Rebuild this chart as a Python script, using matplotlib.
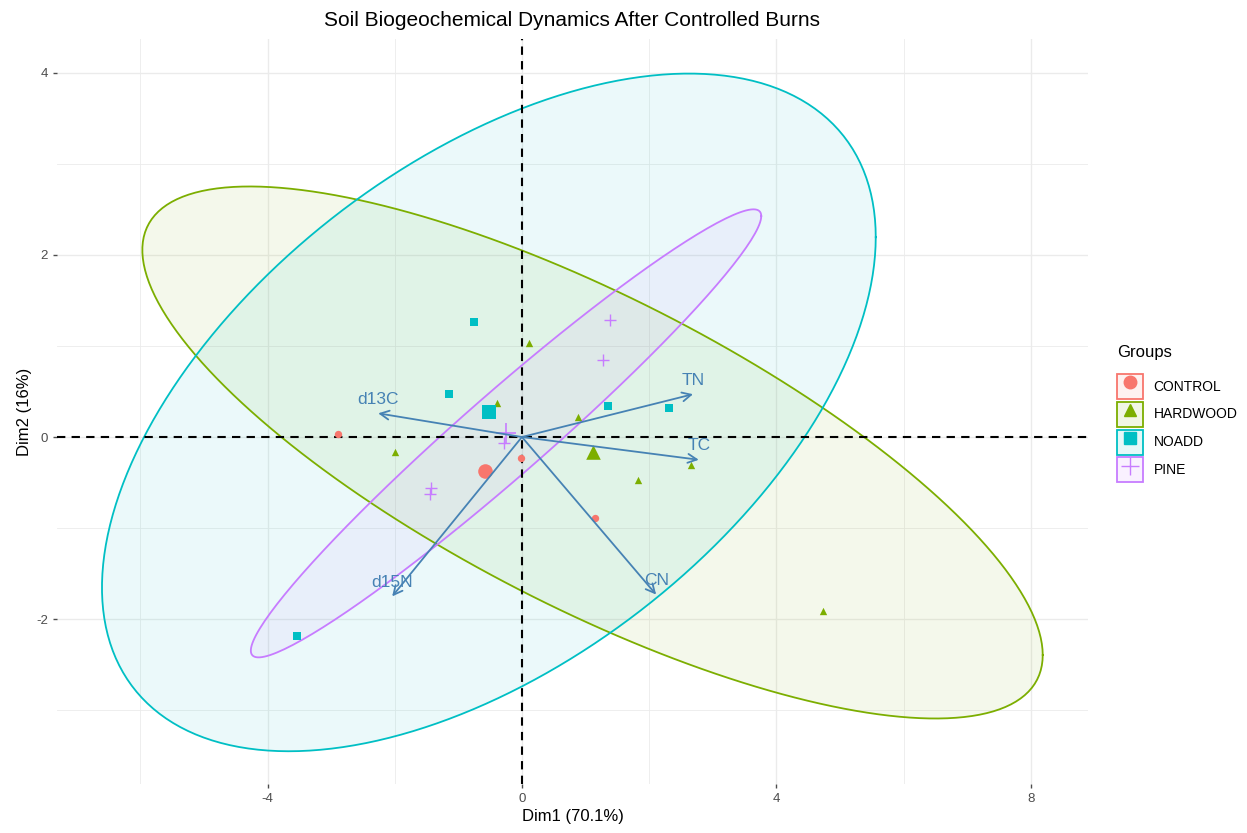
import numpy as np
import matplotlib
matplotlib.use("Agg")
import matplotlib.pyplot as plt
from matplotlib.patches import Patch
from matplotlib.lines import Line2D

plt.rcParams['font.family'] = ['Liberation Sans', 'DejaVu Sans']
plt.rcParams['axes.unicode_minus'] = False

# individuals (PCA scores) per group
control_x = [-2.89, -0.02, 1.15]
control_y = [0.03, -0.23, -0.89]
hardwood_x = [0.11, -0.39, 0.88, -2.00, 2.66, 1.82, 4.73]
hardwood_y = [1.03, 0.37, 0.22, -0.17, -0.31, -0.47, -1.91]
noadd_x = [-0.75, -1.15, 1.35, 2.31, -3.54]
noadd_y = [1.26, 0.47, 0.34, 0.32, -2.18]
pine_x = [1.38, 1.27, -0.28, -1.43, -1.45]
pine_y = [1.29, 0.85, -0.07, -0.56, -0.63]

# group means
centroids = {"CONTROL": (-0.58, -0.37), "HARDWOOD": (1.11, -0.17),
             "NOADD": (-0.52, 0.27), "PINE": (-0.25, 0.04)}

# concentration ellipses: covariance (sxx, syy, sxy) around the group mean
ell_hardwood = (50.1, 8.53, -15.74)
ell_noadd = (37.0, 13.84, 11.7)
ell_pine = (16.1, 6.05, 9.57)

# variable loadings (arrow tips)
var_names = ["d13C", "TN", "TC", "d15N", "CN"]
var_x = [-2.26, 2.69, 2.78, -2.04, 2.11]
var_y = [0.26, 0.47, -0.25, -1.75, -1.73]

groups = ["CONTROL", "HARDWOOD", "NOADD", "PINE"]
colors = {"CONTROL": "#F8766D", "HARDWOOD": "#7CAE00", "NOADD": "#00BFC4", "PINE": "#C77CFF"}
markers = {"CONTROL": "o", "HARDWOOD": "^", "NOADD": "s", "PINE": "+"}
pts = {"CONTROL": (control_x, control_y), "HARDWOOD": (hardwood_x, hardwood_y),
       "NOADD": (noadd_x, noadd_y), "PINE": (pine_x, pine_y)}
ellipses = {"HARDWOOD": ell_hardwood, "NOADD": ell_noadd, "PINE": ell_pine}

fig = plt.figure(figsize=(12.47, 8.33), dpi=100)
ax = fig.add_axes([0.0457, 0.0588, 0.8268, 0.8944])

grid_c = "#EBEBEB"
for v in range(-6, 9, 2):
    ax.axvline(v, color=grid_c, lw=1.0 if v % 4 == 0 else 0.6, zorder=0)
for v in range(-3, 5):
    ax.axhline(v, color=grid_c, lw=1.0 if v % 2 == 0 else 0.6, zorder=0)

t = np.linspace(0, 2 * np.pi, 200)
for g in ["HARDWOOD", "NOADD", "PINE"]:
    sxx, syy, sxy = ellipses[g]
    L = np.linalg.cholesky(np.array([[sxx, sxy], [sxy, syy]]))
    cx, cy = centroids[g]
    e = L @ np.vstack([np.cos(t), np.sin(t)])
    ax.fill(cx + e[0], cy + e[1], facecolor=colors[g], alpha=0.08, zorder=1)
    ax.plot(cx + e[0], cy + e[1], color=colors[g], lw=1.3, zorder=2)

ax.axhline(0, color="black", lw=1.5, ls=(0, (4, 3)), zorder=3)
ax.axvline(0, color="black", lw=1.5, ls=(0, (4, 3)), zorder=3)

for g in groups:
    x, y = pts[g]
    cx, cy = centroids[g]
    if g == "PINE":
        ax.scatter(x, y, marker="+", s=70, color=colors[g], lw=1.0, zorder=4)
        ax.scatter([cx], [cy], marker="+", s=200, color=colors[g], lw=1.2, zorder=4)
    else:
        ax.scatter(x, y, marker=markers[g], s=28, color=colors[g], lw=0, zorder=4)
        ax.scatter([cx], [cy], marker=markers[g], s=110, color=colors[g], lw=0, zorder=4)

arrow_c = "#4682B4"
for name, vx, vy in zip(var_names, var_x, var_y):
    ax.annotate("", xy=(vx, vy), xytext=(0, 0),
                arrowprops=dict(arrowstyle="->", color=arrow_c, lw=1.3,
                                mutation_scale=16, shrinkA=0, shrinkB=0), zorder=5)
    ax.annotate(name, xy=(vx, vy), xytext=(0, 10), textcoords="offset points",
                ha="center", va="center", color=arrow_c, fontsize=12.5, zorder=6)

ax.set_xlim(-7.31, 8.90)
ax.set_ylim(-3.81, 4.37)
ax.set_xticks([-4, 0, 4, 8])
ax.set_yticks([-2, 0, 2, 4])
ax.tick_params(length=3, width=1, color="#4D4D4D", labelcolor="#4D4D4D", labelsize=9.5)
for s in ax.spines.values():
    s.set_visible(False)
ax.set_xlabel("Dim1 (70.1%)", fontsize=12, labelpad=3)
ax.set_ylabel("Dim2 (16%)", fontsize=12, labelpad=3)
ax.set_title("Soil Biogeochemical Dynamics After Controlled Burns", fontsize=15, pad=9)

handles = []
for g in groups:
    box = Patch(facecolor=matplotlib.colors.to_rgba(colors[g], 0.1), edgecolor=colors[g], lw=1.3)
    mk = Line2D([], [], ls="none", marker=markers[g], color=colors[g],
                markersize=13 if g == "PINE" else 9, mew=1.0)
    handles.append((box, mk))
leg = fig.legend(handles, groups, title="Groups", loc="center left",
                 bbox_to_anchor=(0.886, 0.5034), frameon=False, fontsize=10,
                 title_fontsize=12, handlelength=1.87, handleheight=2.4,
                 labelspacing=0.2, handletextpad=0.75)
leg._legend_box.align = "left"
leg._legend_box.sep = 10  # more room under the title

fig.savefig("out.png", dpi=100)
